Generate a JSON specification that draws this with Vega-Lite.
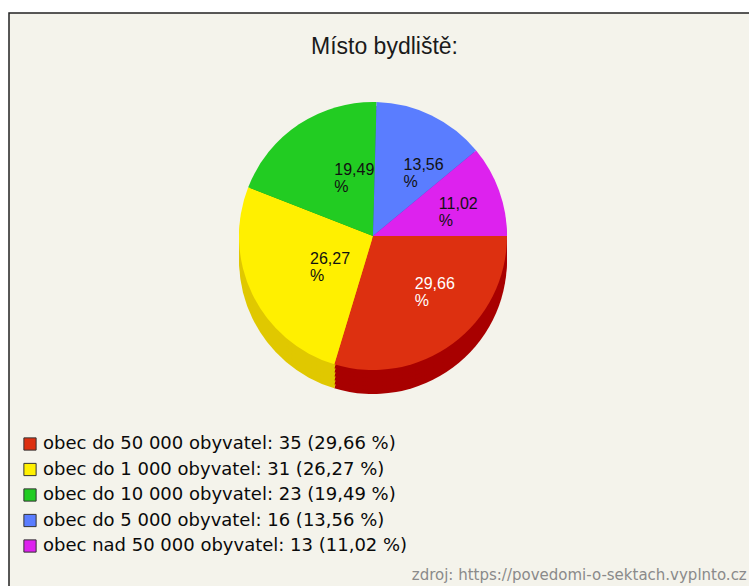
{
  "$schema": "https://vega.github.io/schema/vega-lite/v6.json",
  "background": "white",
  "padding": {"left": 8, "top": 12, "right": 0, "bottom": 0},
  "title": {
    "text": "zdroj: https://povedomi-o-sektach.vyplnto.cz",
    "orient": "bottom",
    "anchor": "end",
    "offset": -30,
    "dx": -14,
    "font": "DejaVu Sans",
    "fontSize": 15,
    "fontWeight": "normal",
    "color": "#8a8a8a"
  },
  "datasets": {
    "bydliste": [
      {"kategorie": "obec do 50 000 obyvatel: 35 (29,66 %)", "pocet": 35, "popisek": "29,66\n%", "poradi": 1},
      {"kategorie": "obec do 1 000 obyvatel: 31 (26,27 %)", "pocet": 31, "popisek": "26,27\n%", "poradi": 2},
      {"kategorie": "obec do 10 000 obyvatel: 23 (19,49 %)", "pocet": 23, "popisek": "19,49\n%", "poradi": 3},
      {"kategorie": "obec do 5 000 obyvatel: 16 (13,56 %)", "pocet": 16, "popisek": "13,56\n%", "poradi": 4},
      {"kategorie": "obec nad 50 000 obyvatel: 13 (11,02 %)", "pocet": 13, "popisek": "11,02\n%", "poradi": 5}
    ]
  },
  "vconcat": [
    {
      "width": 751,
      "height": 584,
      "view": {"stroke": "#222222", "strokeWidth": 1.5, "fill": "#f4f3eb"},
      "title": {
        "text": "Místo bydliště:",
        "anchor": "middle",
        "offset": -46,
        "font": "Liberation Sans",
        "fontSize": 23,
        "fontWeight": "normal",
        "color": "#1a1a1a"
      },
      "data": {"name": "bydliste"},
      "encoding": {
        "theta": {"field": "pocet", "type": "quantitative", "stack": true, "scale": {"range": [1.5708, 7.854]}},
        "order": {"field": "poradi", "type": "quantitative"}
      },
      "layer": [
        {
          "mark": {"type": "arc", "radius": 134, "xOffset": -11.5, "yOffset": -45},
          "encoding": {"fill": {"field": "kategorie", "type": "nominal", "sort": null, "legend": null,
            "scale": {"range": ["#a80000", "#e0c800", "#0c9a0c", "#3050c0", "#9a10a8"]}}}
        },
        {
          "mark": {"type": "arc", "radius": 134, "xOffset": -11.5, "yOffset": -49},
          "encoding": {"fill": {"field": "kategorie", "type": "nominal", "sort": null, "legend": null}}
        },
        {
          "mark": {"type": "arc", "radius": 134, "xOffset": -11.5, "yOffset": -53},
          "encoding": {"fill": {"field": "kategorie", "type": "nominal", "sort": null, "legend": null}}
        },
        {
          "mark": {"type": "arc", "radius": 134, "xOffset": -11.5, "yOffset": -57},
          "encoding": {"fill": {"field": "kategorie", "type": "nominal", "sort": null, "legend": null}}
        },
        {
          "mark": {"type": "arc", "radius": 134, "xOffset": -11.5, "yOffset": -61},
          "encoding": {"fill": {"field": "kategorie", "type": "nominal", "sort": null, "legend": null}}
        },
        {
          "mark": {"type": "arc", "radius": 134, "xOffset": -11.5, "yOffset": -65},
          "encoding": {"fill": {"field": "kategorie", "type": "nominal", "sort": null, "legend": null}}
        },
        {
          "mark": {"type": "arc", "radius": 134, "xOffset": -11.5, "yOffset": -69},
          "encoding": {
            "color": {
              "field": "kategorie",
              "type": "nominal",
              "sort": null,
              "scale": {"range": ["#dd3010", "#fff000", "#22cc22", "#5a7dff", "#dd22ee"]},
              "legend": {
                "orient": "none",
                "legendX": 12,
                "legendY": 422,
                "title": null,
                "symbolType": "square",
                "symbolSize": 150,
                "symbolStrokeColor": "#333333",
                "symbolStrokeWidth": 1,
                "labelFont": "DejaVu Sans",
                "labelFontSize": 18,
                "labelColor": "#0a0a0a",
                "labelLimit": 0,
                "labelOffset": 4,
                "rowPadding": 7.5
              }
            }
          }
        },
        {
          "mark": {"type": "text", "radius": 70, "xOffset": -11.5, "yOffset": -77, "align": "left", "baseline": "middle", "lineBreak": "\n", "font": "Liberation Sans", "fontSize": 16, "lineHeight": 17},
          "encoding": {
            "text": {"field": "popisek", "type": "nominal"},
            "color": {"condition": {"test": "datum.poradi === 1", "value": "#ffffff"}, "value": "#111111"}
          }
        }
      ]
    }
  ],
  "config": {
    "concat": {"spacing": 0}
  }
}
